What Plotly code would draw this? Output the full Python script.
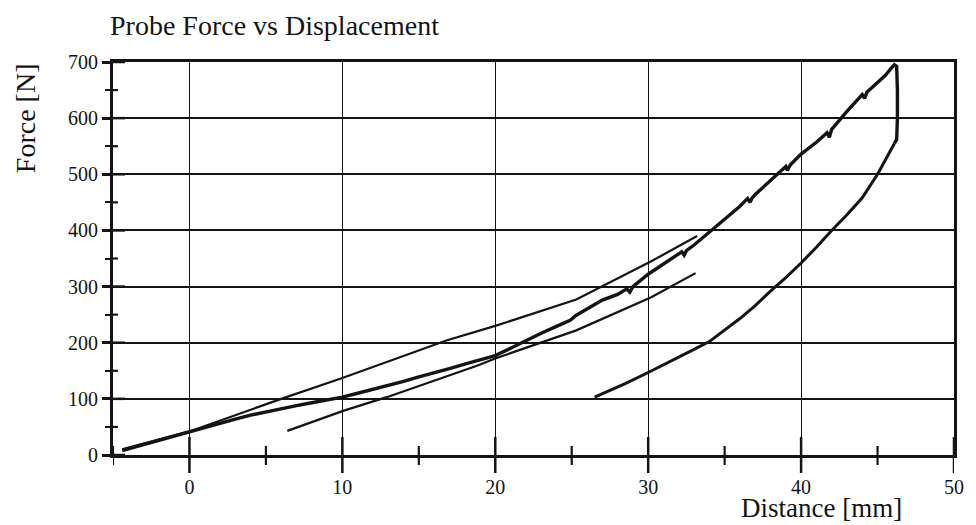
import plotly.graph_objects as go

# ---- data ----
load_x = [-4.4, -3.5, -2.5, -1.5, -0.5, 0, 1, 2, 3, 4, 5, 6, 7, 8, 9, 10, 11, 12, 13, 13.6, 14,
          15, 16, 17, 18, 19, 20, 21, 22, 23, 24, 24.9, 25.3, 26, 27, 28, 28.6, 28.8, 29, 30,
          31, 32, 32.2, 32.35, 32.5, 33, 34, 35, 36, 36.5, 36.65, 36.8, 37, 38, 39, 39.1, 39.3,
          40, 41, 41.7, 41.85, 42, 42.7, 43, 44, 44.15, 44.3, 45, 45.5, 45.9, 46.1, 46.25,
          46.3, 46.3, 46.25, 46.1]
load_y = [8, 15, 22, 30, 37, 42, 49, 57, 64, 71, 77, 83, 88, 93, 98, 103, 110, 117, 124, 127, 131,
          139, 146, 154, 162, 170, 177, 190, 204, 217, 229, 240, 249, 260, 276, 286, 296, 290, 300, 322,
          340, 357, 362, 356, 364, 374, 398, 420, 443, 457, 450, 458, 464, 490, 514, 507, 517,
          536, 557, 574, 566, 580, 603, 612, 642, 635, 646, 663, 676, 689, 695, 692,
          650, 600, 562, 555]

unload_x = [46.1, 45.6, 45.0, 44.0, 43.0, 42.0, 41.0, 40.0, 39.0, 38.0, 37.0, 36.0, 35.0,
            34.0, 33.0, 32.0, 31.0, 30.0, 28.5, 27.5, 26.5]
unload_y = [555, 530, 500, 458, 428, 400, 370, 342, 316, 292, 266, 243, 222,
            202, 188, 174, 160, 147, 127, 115, 103]

lineA_x = [-4.4, 0, 6, 10, 16.8, 20, 25.3, 30.2, 33.2]
lineA_y = [10, 42, 100, 137, 204, 230, 277, 345, 390]

lineB_x = [6.4, 10.1, 12.9, 18.8, 20, 23.1, 25.3, 30.2, 33.1]
lineB_y = [43, 79, 103, 159, 172, 201, 222, 281, 324]

x_major = [0, 10, 20, 30, 40, 50]
x_minor = [-5, 5, 15, 25, 35, 45]
y_major = [0, 100, 200, 300, 400, 500, 600, 700]
y_minor = [50, 150, 250, 350, 450, 550, 650]

INK = "#141414"
FONT = "Liberation Serif, Times New Roman, serif"

fig = go.Figure()
fig.add_trace(go.Scatter(x=lineA_x, y=lineA_y, mode="lines",
                         line=dict(color=INK, width=2.2), hoverinfo="skip"))
fig.add_trace(go.Scatter(x=lineB_x, y=lineB_y, mode="lines",
                         line=dict(color=INK, width=2.2), hoverinfo="skip"))
fig.add_trace(go.Scatter(x=load_x, y=load_y, mode="lines",
                         line=dict(color=INK, width=3.4), hoverinfo="skip"))
fig.add_trace(go.Scatter(x=unload_x, y=unload_y, mode="lines",
                         line=dict(color=INK, width=3.0), hoverinfo="skip"))

# crossing tick marks (x: both sides; y: inside halves, outside halves are native ticks)
shapes = []
for t in x_major:
    shapes.append(dict(type="line", xref="x", yref="paper", ysizemode="pixel", yanchor=0,
                       x0=t, x1=t, y0=-18, y1=18, line=dict(color=INK, width=2.5)))
for t in x_minor:
    shapes.append(dict(type="line", xref="x", yref="paper", ysizemode="pixel", yanchor=0,
                       x0=t, x1=t, y0=-10, y1=9, line=dict(color=INK, width=2.2)))
for t in y_major:
    shapes.append(dict(type="line", xref="paper", yref="y", xsizemode="pixel", xanchor=0,
                       x0=0, x1=12, y0=t, y1=t, line=dict(color=INK, width=2.5)))
for t in y_minor:
    shapes.append(dict(type="line", xref="paper", yref="y", xsizemode="pixel", xanchor=0,
                       x0=0, x1=5, y0=t, y1=t, line=dict(color=INK, width=2.2)))

# the page body has an 8px margin, so the figure is 8px smaller and margins shifted
fig.update_layout(
    width=968, height=517,
    margin=dict(l=105, r=14, t=54, b=70),
    paper_bgcolor="white", plot_bgcolor="white",
    showlegend=False,
    font=dict(family=FONT, color=INK, size=20),
    shapes=shapes,
    annotations=[
        dict(text="Probe Force vs Displacement", xref="paper", yref="paper",
             x=-0.006, y=1.094, xanchor="left", yanchor="middle", showarrow=False,
             font=dict(family=FONT, size=28, color=INK)),
        dict(text="Force [N]", xref="paper", yref="paper", textangle=-90,
             x=-0.104, y=0.856, xanchor="center", yanchor="middle", showarrow=False,
             font=dict(family=FONT, size=28, color=INK)),
        dict(text="Distance [mm]", xref="paper", yref="paper",
             x=0.843, y=-0.136, xanchor="center", yanchor="middle", showarrow=False,
             font=dict(family=FONT, size=27, color=INK)),
    ],
)

fig.update_xaxes(
    range=[-5, 50], tickvals=x_major, ticktext=[str(v) for v in x_major],
    showline=True, linecolor=INK, linewidth=3, mirror=True,
    showgrid=True, gridcolor=INK, gridwidth=1.3, zeroline=False,
    ticks="outside", ticklen=12, tickwidth=1, tickcolor="rgba(0,0,0,0)",
    tickfont=dict(family=FONT, size=20, color=INK),
)
fig.update_yaxes(
    range=[0, 700], tickvals=y_major, ticktext=[str(v) for v in y_major],
    showline=True, linecolor=INK, linewidth=3, mirror=True,
    showgrid=True, gridcolor=INK, gridwidth=1.5, zeroline=False,
    ticks="outside", ticklen=8, tickwidth=2.5, tickcolor=INK,
    minor=dict(tickvals=y_minor, ticks="outside", ticklen=5, tickwidth=2.2,
               tickcolor=INK, showgrid=False),
    tickfont=dict(family=FONT, size=20, color=INK),
)

fig.write_html("out.html")
